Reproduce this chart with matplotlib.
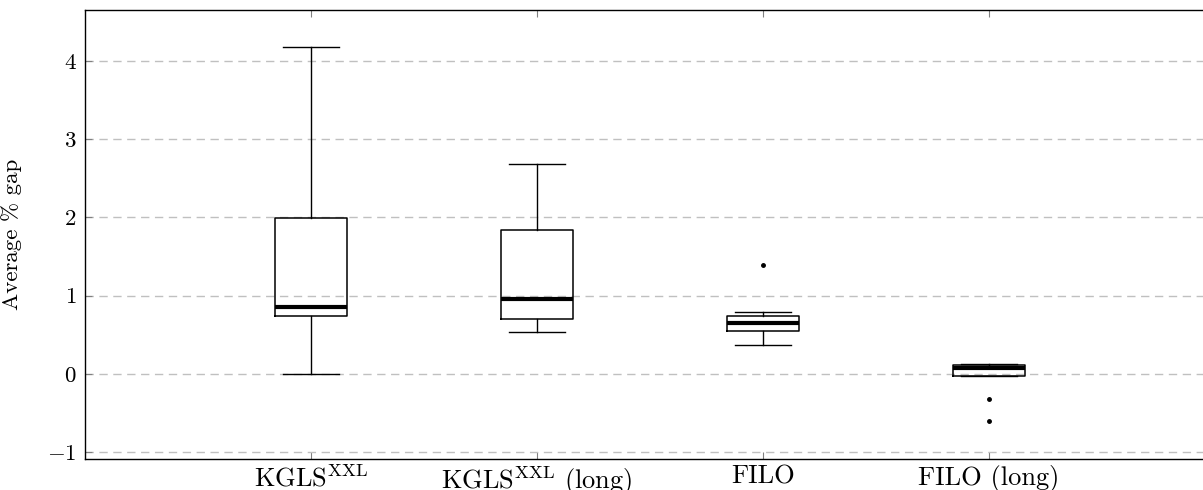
import matplotlib
matplotlib.use('agg')
import matplotlib.pyplot as plt

plt.rcParams['font.family'] = 'serif'
plt.rcParams['font.serif'] = ['cmr10']
plt.rcParams['mathtext.fontset'] = 'cm'
plt.rcParams['axes.formatter.use_mathtext'] = True

# data
methods = [r'KGLS$^{\mathrm{XXL}}$', r'KGLS$^{\mathrm{XXL}}$ (long)', 'FILO', 'FILO (long)']
whisker_lo = [0.0, 0.537, 0.367, -0.03]
q1 = [0.74, 0.70, 0.553, -0.029]
median = [0.856, 0.958, 0.652, 0.073]
q3 = [1.99, 1.84, 0.745, 0.111]
whisker_hi = [4.18, 2.68, 0.796, 0.128]
outliers = [[], [], [1.393], [-0.32, -0.604]]

stats = []
for i in range(len(methods)):
    stats.append({'med': median[i], 'q1': q1[i], 'q3': q3[i],
                  'whislo': whisker_lo[i], 'whishi': whisker_hi[i],
                  'fliers': outliers[i], 'label': methods[i]})

fig = plt.figure(figsize=(12.03, 4.9), dpi=100)
ax = fig.add_axes([85 / 1203, 31 / 490, 1130 / 1203, 449 / 490])

ax.bxp(stats, positions=[1, 2, 3, 4], widths=0.32, capwidths=0.25,
       boxprops=dict(color='black', linewidth=1.1),
       whiskerprops=dict(color='black', linewidth=1.0),
       capprops=dict(color='black', linewidth=1.0),
       medianprops=dict(color='black', linewidth=3.0),
       flierprops=dict(marker='o', markersize=2.5, markerfacecolor='black',
                       markeredgecolor='black', linestyle='none'),
       zorder=3)

ax.set_xlim(0, 5)
ax.set_ylim(-1.086, 4.65)
ax.set_yticks([-1, 0, 1, 2, 3, 4])
ax.yaxis.grid(True, linestyle=(0, (6, 4)), color='#c0c0c0', linewidth=1.0)
ax.set_axisbelow(True)
ax.tick_params(axis='both', direction='in', length=5, color='#808080',
               labelsize=16.5, top=True, right=True)
ax.tick_params(axis='x', pad=4, labelsize=19)
ax.tick_params(axis='y', pad=6)
ax.set_ylabel('Average % gap', fontsize=16.5)
ax.yaxis.set_label_coords(-0.056, 0.5)
for s in ax.spines.values():
    s.set_linewidth(1.0)

fig.savefig('out.png', dpi=100)
